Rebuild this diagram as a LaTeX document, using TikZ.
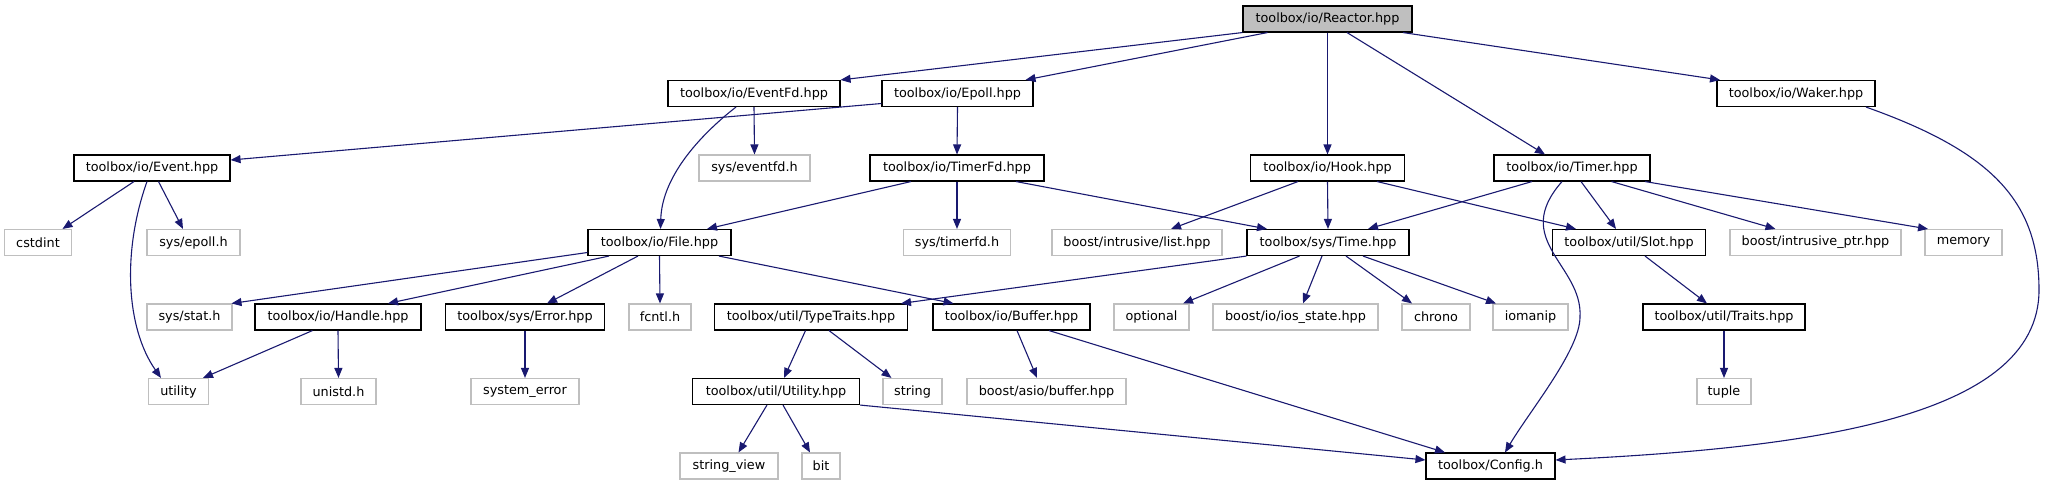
\documentclass[tikz,border=0pt]{standalone}
\usepackage{fontspec}
\setmainfont{DejaVu Sans}
\usepackage{xcolor}
\usepackage{tikz}
\usetikzlibrary{arrows.meta}

\definecolor{edgeblue}{HTML}{191970}
\definecolor{sysgrey}{HTML}{BFBFBF}

\begin{document}
\begin{tikzpicture}[x=1pt, y=-1pt,
  hdr/.style={draw=black, line width=1.1pt, fill=white, minimum height=26pt, inner sep=0pt,
    font=\fontsize{12.8}{15}\selectfont},
  sys/.style={hdr, draw=sysgrey},
  dep/.style={draw=edgeblue, line width=1.1pt, -{Triangle[length=10pt, width=8pt]}}]
  \useasboundingbox (0,0) rectangle (2045,485);

  % Row 0
  \node[hdr, fill=sysgrey, minimum width=169pt] (reactor) at (1327.5,19) {toolbox/io/Reactor.hpp};

  % Row 1
  \node[hdr, minimum width=172pt] (eventfd) at (754,93.5) {toolbox/io/EventFd.hpp};
  \node[hdr, minimum width=151pt] (epoll) at (957.5,93.5) {toolbox/io/Epoll.hpp};
  \node[hdr, minimum width=158pt] (waker) at (1796,93.5) {toolbox/io/Waker.hpp};

  % Row 2
  \node[hdr, minimum width=156pt] (event) at (152,168) {toolbox/io/Event.hpp};
  \node[sys, minimum width=111pt] (eventfdh) at (754.5,168) {sys/eventfd.h};
  \node[hdr, minimum width=174pt] (timerfd) at (957,168) {toolbox/io/TimerFd.hpp};
  \node[hdr, minimum width=154pt] (hook) at (1327.5,168) {toolbox/io/Hook.hpp};
  \node[hdr, minimum width=156pt] (timer) at (1572,168) {toolbox/io/Timer.hpp};

  % Row 3
  \node[sys, minimum width=67pt] (cstdint) at (38,242.5) {cstdint};
  \node[sys, minimum width=93pt] (epollh) at (193.5,242.5) {sys/epoll.h};
  \node[hdr, minimum width=143pt] (file) at (659.5,242.5) {toolbox/io/File.hpp};
  \node[sys, minimum width=107pt] (timerfdh) at (957,242.5) {sys/timerfd.h};
  \node[sys, minimum width=170pt] (list) at (1137,242.5) {boost/intrusive/list.hpp};
  \node[hdr, minimum width=162pt] (time) at (1328,242.5) {toolbox/sys/Time.hpp};
  \node[hdr, minimum width=153pt] (slot) at (1629,242.5) {toolbox/util/Slot.hpp};
  \node[sys, minimum width=171pt] (intrusiveptr) at (1815.5,242.5) {boost/intrusive\_ptr.hpp};
  \node[sys, minimum width=77pt] (memory) at (1963.5,242.5) {memory};

  % Row 4
  \node[sys, minimum width=85pt] (stath) at (189.5,317) {sys/stat.h};
  \node[hdr, minimum width=166pt] (handle) at (338,317) {toolbox/io/Handle.hpp};
  \node[hdr, minimum width=159pt] (error) at (525,317) {toolbox/sys/Error.hpp};
  \node[sys, minimum width=62pt] (fcntl) at (660,317) {fcntl.h};
  \node[hdr, minimum width=193pt] (typetraits) at (811,317) {toolbox/util/TypeTraits.hpp};
  \node[hdr, minimum width=157pt] (buffer) at (1011.5,317) {toolbox/io/Buffer.hpp};
  \node[sys, minimum width=75pt] (optional) at (1151.5,317) {optional};
  \node[sys, minimum width=165pt] (iosstate) at (1295.5,317) {boost/io/ios\_state.hpp};
  \node[sys, minimum width=68pt] (chrono) at (1436,317) {chrono};
  \node[sys, minimum width=75pt] (iomanip) at (1530.5,317) {iomanip};
  \node[hdr, minimum width=162pt] (traits) at (1724,317) {toolbox/util/Traits.hpp};

  % Row 5
  \node[sys, minimum width=60pt] (utility) at (178.5,391.5) {utility};
  \node[sys, minimum width=75pt] (unistd) at (338.5,391.5) {unistd.h};
  \node[sys, minimum width=108pt] (systemerror) at (525,391.5) {system\_error};
  \node[hdr, minimum width=167pt] (utilityhpp) at (776,391.5) {toolbox/util/Utility.hpp};
  \node[sys, minimum width=59pt] (string) at (912.5,391.5) {string};
  \node[sys, minimum width=159pt] (asiobuffer) at (1046.5,391.5) {boost/asio/buffer.hpp};
  \node[sys, minimum width=54pt] (tuple) at (1724,391.5) {tuple};

  % Row 6
  \node[sys, minimum width=98pt] (stringview) at (729,466) {string\_view};
  \node[sys, minimum width=38pt] (bit) at (821,466) {bit};
  \node[hdr, minimum width=129pt] (config) at (1490.5,466) {toolbox/Config.h};

  % bends of the long curves
  \coordinate (timerbend) at (1580,317);
  \coordinate (wakerbend) at (2039,290);

  % Reactor.hpp
  \draw[dep] (reactor.south west) -- (eventfd.north east);
  \draw[dep] ([xshift=-60pt]reactor.south) -- ([xshift=68pt]epoll.north);
  \draw[dep] (reactor.south) -- (hook.north);
  \draw[dep] ([xshift=19.5pt]reactor.south) -- ([xshift=-27pt]timer.north);
  \draw[dep] ([xshift=75.5pt]reactor.south) -- ([xshift=-76pt]waker.north);

  % EventFd.hpp, Epoll.hpp, Waker.hpp
  \draw[dep] (eventfd.south) -- (eventfdh.north);
  \draw[dep] ([xshift=-18pt]eventfd.south) .. controls +(-31,24) and +(1.5,-55) .. ([xshift=1pt]file.north);
  \draw[dep] ([yshift=-10pt]epoll.west) -- ([yshift=8pt]event.east);
  \draw[dep] (epoll.south) -- (timerfd.north);
  \draw[dep] ([xshift=70pt]waker.south) .. controls +(124,44) and +(0,-90) .. (wakerbend)
    .. controls +(0,130) and +(245,-12) .. ([yshift=6pt]config.east);

  % Event.hpp
  \draw[dep] ([xshift=-18pt]event.south) -- ([xshift=24.5pt]cstdint.north);
  \draw[dep] ([xshift=6.5pt]event.south) -- ([xshift=-10.5pt]epollh.north);
  \draw[dep] ([xshift=-5pt]event.south) .. controls +(-25,70) and +(-35,-50) .. ([xshift=-17.5pt]utility.north);

  % TimerFd.hpp, Hook.hpp
  \draw[dep] ([xshift=-46pt]timerfd.south) -- ([xshift=47.5pt]file.north);
  \draw[dep] (timerfd.south) -- (timerfdh.north);
  \draw[dep] ([xshift=59pt]timerfd.south) -- ([xshift=-61pt]time.north);
  \draw[dep] ([xshift=-29.5pt]hook.south) -- ([xshift=34pt]list.north);
  \draw[dep] (hook.south) -- (time.north);
  \draw[dep] ([xshift=49.5pt]hook.south) -- ([xshift=-53pt]slot.north);

  % Timer.hpp
  \draw[dep] ([xshift=-40pt]timer.south) -- ([xshift=40pt]time.north);
  \draw[dep] ([xshift=-10pt]timer.south) .. controls +(-52,59) and +(3,-52) .. (timerbend)
    .. controls +(0,33) and +(25,-42) .. ([xshift=14.5pt]config.north);
  \draw[dep] ([xshift=9pt]timer.south) -- ([xshift=-13pt]slot.north);
  \draw[dep] ([xshift=39.5pt]timer.south) -- ([xshift=-40pt]intrusiveptr.north);
  \draw[dep] ([xshift=73pt]timer.south) -- ([xshift=-35.5pt]memory.north);

  % File.hpp
  \draw[dep] ([yshift=-10pt]file.west) -- ([xshift=42pt]stath.north);
  \draw[dep] ([xshift=-50.5pt]file.south) -- ([xshift=50pt]handle.north);
  \draw[dep] ([xshift=-21.5pt]file.south) -- ([xshift=22pt]error.north);
  \draw[dep] (file.south) -- (fcntl.north);
  \draw[dep] ([xshift=59.5pt]file.south) -- ([xshift=-58pt]buffer.north);

  % Time.hpp
  \draw[dep] (time.south west) -- ([xshift=90pt]typetraits.north);
  \draw[dep] ([xshift=-28.5pt]time.south) -- ([xshift=31.5pt]optional.north);
  \draw[dep] ([xshift=-6pt]time.south) -- ([xshift=7.5pt]iosstate.north);
  \draw[dep] ([xshift=18pt]time.south) -- ([xshift=-24pt]chrono.north);
  \draw[dep] ([xshift=35pt]time.south) -- ([xshift=-34.5pt]iomanip.north);
  \draw[dep] ([xshift=16pt]slot.south) -- ([xshift=-17pt]traits.north);

  % Handle.hpp, Error.hpp
  \draw[dep] ([xshift=-25.5pt]handle.south) -- ([xshift=24.5pt]utility.north);
  \draw[dep] (handle.south) -- (unistd.north);
  \draw[dep] (error.south) -- (systemerror.north);

  % TypeTraits.hpp, Buffer.hpp, Traits.hpp
  \draw[dep] ([xshift=-5.5pt]typetraits.south) -- ([xshift=8pt]utilityhpp.north);
  \draw[dep] ([xshift=18pt]typetraits.south) -- ([xshift=-21pt]string.north);
  \draw[dep] ([xshift=5.5pt]buffer.south) -- ([xshift=-9.5pt]asiobuffer.north);
  \draw[dep] ([xshift=37.5pt]buffer.south) -- ([xshift=-45.5pt]config.north);
  \draw[dep] (traits.south) -- (tuple.north);

  % Utility.hpp
  \draw[dep] ([xshift=-9pt]utilityhpp.south) -- ([xshift=9.5pt]stringview.north);
  \draw[dep] ([xshift=7pt]utilityhpp.south) -- ([xshift=-11pt]bit.north);
  \draw[dep] (utilityhpp.south east) -- ([yshift=6pt]config.west);
\end{tikzpicture}
\end{document}
